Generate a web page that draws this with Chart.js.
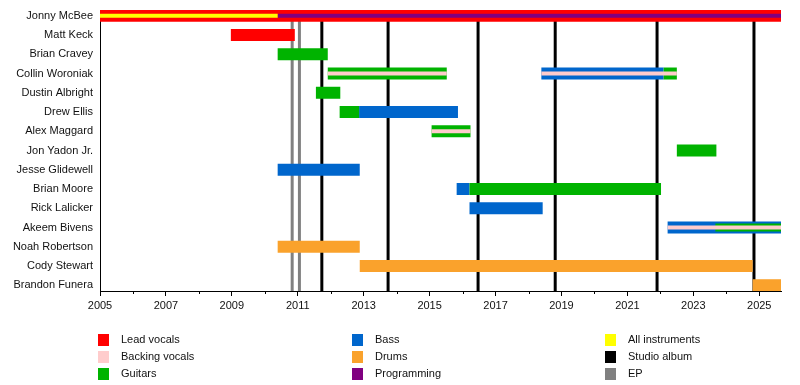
<!DOCTYPE html>
<html>
<head>
<meta charset="utf-8">
<script src="https://cdn.jsdelivr.net/npm/chart.js@4"></script>
<style>
  body { margin: 0; background: #fff; }
  #wrap { width: 800px; height: 385px; }
</style>
</head>
<body>
<div id="wrap"><canvas id="timeline"></canvas></div>
<script>
const members = [
  "Jonny McBee", "Matt Keck", "Brian Cravey", "Collin Woroniak", "Dustin Albright",
  "Drew Ellis", "Alex Maggard", "Jon Yadon Jr.", "Jesse Glidewell", "Brian Moore",
  "Rick Lalicker", "Akeem Bivens", "Noah Robertson", "Cody Stewart", "Brandon Funera"
];

const START = 2005;
const NOW = 2025.66;

// [member index, from, to]
const leadVocals = [[0, 2005, NOW], [1, 2008.97, 2010.91]];
const guitars = [
  [2, 2010.39, 2011.91], [3, 2011.91, 2015.52], [3, 2022.1, 2022.5],
  [4, 2011.55, 2012.29], [5, 2012.27, 2012.86], [6, 2015.06, 2016.24],
  [7, 2022.5, 2023.7], [9, 2016.21, 2022.02]
];
const bass = [
  [3, 2018.39, 2022.1], [5, 2012.86, 2015.86], [8, 2010.39, 2012.88],
  [9, 2015.82, 2016.21], [10, 2016.21, 2018.43], [11, 2022.22, NOW]
];
const drums = [[12, 2010.39, 2012.88], [13, 2012.88, 2024.8], [14, 2024.8, NOW]];
const extraGuitars = [[11, 2023.67, NOW]];
const backingVocals = [
  [3, 2011.91, 2015.52], [3, 2018.39, 2022.5], [6, 2015.06, 2016.24], [11, 2022.22, NOW]
];
const allInstruments = [[0, 2005, 2010.39]];
const programming = [[0, 2010.39, NOW]];

const studioAlbums = [2011.73, 2013.74, 2016.47, 2018.81, 2021.9, 2024.84];
const eps = [2010.83, 2011.05];

const legendLabels = [
  ["Lead vocals", "Backing vocals", "Guitars"],
  ["Bass", "Drums", "Programming"],
  ["All instruments", "Studio album", "EP"]
];

const colors = {
  "Lead vocals": "#ff0000",
  "Backing vocals": "#ffcccc",
  "Guitars": "#00b300",
  "Bass": "#0066cc",
  "Drums": "#faa22c",
  "Programming": "#800080",
  "All instruments": "#ffff00",
  "Studio album": "#000000",
  "EP": "#808080"
};

const FONT = "'Liberation Sans', Arial, sans-serif";

function spans(list) {
  return list.map(s => ({ y: s[0], x: [s[1], s[2]] }));
}

function layer(label, list, thickness, order) {
  return {
    label: label,
    data: spans(list),
    backgroundColor: colors[label],
    barThickness: thickness,
    grouped: false,
    order: order,
    borderWidth: 0,
    inflateAmount: 0
  };
}

// release lines behind the bars, minor year ticks under the axis, legend below
const extras = {
  id: "extras",
  beforeDatasetsDraw(chart) {
    const { ctx, chartArea, scales } = chart;
    ctx.save();
    ctx.lineWidth = 3;
    const lines = [[eps, colors["EP"]], [studioAlbums, colors["Studio album"]]];
    lines.forEach(([years, col]) => {
      ctx.strokeStyle = col;
      years.forEach(yr => {
        const px = scales.x.getPixelForValue(yr);
        ctx.beginPath();
        ctx.moveTo(px, chartArea.top);
        ctx.lineTo(px, chartArea.bottom);
        ctx.stroke();
      });
    });
    ctx.restore();
  },
  afterDraw(chart) {
    const { ctx, chartArea, scales } = chart;
    ctx.save();
    ctx.strokeStyle = "#000";
    ctx.lineWidth = 1;
    for (let yr = START + 1; yr < NOW; yr += 2) {
      const px = Math.round(scales.x.getPixelForValue(yr)) + 0.5;
      ctx.beginPath();
      ctx.moveTo(px, chartArea.bottom);
      ctx.lineTo(px, chartArea.bottom + 3);
      ctx.stroke();
    }

    const colX = [98, 352, 605];
    const rowY = [340, 357, 374];
    ctx.font = "11px " + FONT;
    ctx.textBaseline = "middle";
    ctx.textAlign = "left";
    legendLabels.forEach((col, c) => {
      col.forEach((label, r) => {
        ctx.fillStyle = colors[label];
        ctx.fillRect(colX[c], rowY[r] - 6, 11, 12);
        ctx.fillStyle = "#111";
        ctx.fillText(label, colX[c] + 23, rowY[r]);
      });
    });
    ctx.restore();
  }
};

new Chart(document.getElementById("timeline"), {
  type: "bar",
  data: {
    datasets: [
      layer("Lead vocals", leadVocals, 12, 3),
      layer("Guitars", guitars, 12, 3),
      layer("Bass", bass, 12, 3),
      layer("Drums", drums, 12, 3),
      layer("Guitars", extraGuitars, 8, 2),
      layer("Backing vocals", backingVocals, 4, 1),
      layer("All instruments", allInstruments, 4, 1),
      layer("Programming", programming, 4, 1)
    ]
  },
  options: {
    indexAxis: "y",
    responsive: true,
    maintainAspectRatio: false,
    animation: false,
    layout: { padding: { top: 10, right: 19, bottom: 64, left: 0 } },
    plugins: {
      legend: { display: false },
      tooltip: { enabled: false }
    },
    scales: {
      x: {
        type: "linear",
        min: START,
        max: NOW,
        border: { display: true, color: "#000", width: 1 },
        grid: {
          display: true,
          drawOnChartArea: false,
          drawTicks: true,
          tickLength: 5,
          tickColor: c => (c.tick && c.tick.value % 2 === 1) ? "#000" : "rgba(0,0,0,0)"
        },
        ticks: {
          stepSize: 1,
          includeBounds: false,
          autoSkip: false,
          maxRotation: 0,
          padding: 3,
          color: "#111",
          font: { family: FONT, size: 11 },
          callback: v => (v % 2 === 1 ? String(v) : "")
        },
        afterFit: s => { s.height = 30; s.paddingLeft = 0; s.paddingRight = 0; }
      },
      y: {
        type: "linear",
        reverse: true,
        offset: false,
        min: -0.3,
        max: 14.3,
        border: { display: true, color: "#000", width: 1 },
        grid: { display: false, drawTicks: false, offset: false },
        ticks: {
          stepSize: 1,
          includeBounds: false,
          autoSkip: false,
          padding: 7,
          color: "#111",
          font: { family: FONT, size: 11 },
          callback: v => (Number.isInteger(v) ? members[v] : "")
        },
        afterFit: s => { s.width = 100; s.paddingTop = 0; s.paddingBottom = 0; }
      }
    }
  },
  plugins: [extras]
});
</script>
</body>
</html>
